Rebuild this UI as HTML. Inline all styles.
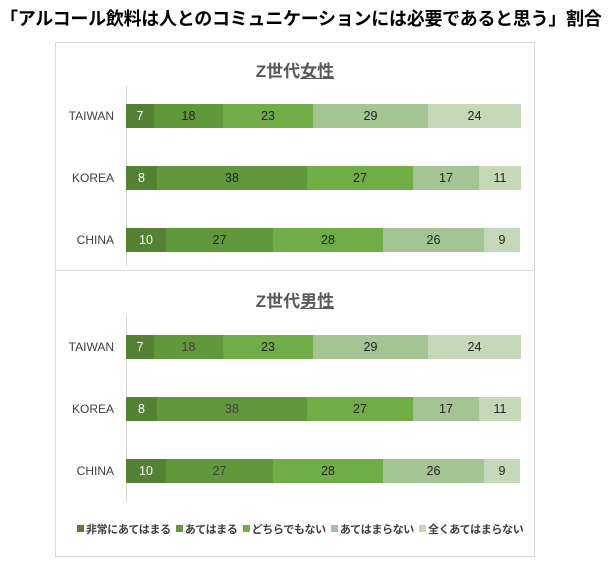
<!DOCTYPE html>
<html><head><meta charset="utf-8"><style>
body{margin:0;width:612px;height:566px;background:#fff;position:relative;font-family:"Liberation Sans","Noto Sans CJK JP",sans-serif;overflow:hidden}
.a{position:absolute}
.t{left:0;top:5px;font-size:18px;font-weight:bold;color:#000;white-space:nowrap;letter-spacing:-0.27px}
.box{left:55px;top:42px;width:480px;height:515px;border:1px solid #d9d9d9;box-sizing:border-box}
.div{left:55px;top:270px;width:480px;height:1px;background:#d9d9d9}
.ct{font-size:17px;font-weight:bold;color:#595959;width:480px;left:55px;text-align:center}
.ct u{text-decoration:underline}
.ax{left:126px;width:1px;background:#d9d9d9}
.lab{font-size:12px;color:#404040;width:64px;left:50px;text-align:right}
.bar{left:126px;height:24px;display:flex}
.bar div{height:24px;line-height:24px;text-align:center;font-size:12.5px;color:#222}
.c1{background:#548235;color:#fff!important}
.c2{background:#62983c}
.c3{background:#70ad47}
.c4{background:#a4c593}
.c5{background:#c5d9b8}
.lg{top:521px;left:77px;font-size:11px;color:#404040;white-space:nowrap;font-weight:bold;letter-spacing:-0.35px}
.lg span{display:inline-block;width:7px;height:7px;margin:0 2px 1px 0}
.lg b{font-weight:bold;margin-right:5px}
</style></head><body>
<div class="a t">「アルコール飲料は人とのコミュニケーションには必要であると思う」割合</div>
<div class="a box"></div>
<div class="a div"></div>
<div class="a ct" style="top:57px">Z世代<u>女性</u></div>
<div class="a ct" style="top:287px">Z世代<u>男性</u></div>
<div class="a ax" style="top:86px;height:180px"></div>
<div class="a ax" style="top:316px;height:186px"></div>

<div class="a lab" style="top:109px">TAIWAN</div>
<div class="a lab" style="top:171px">KOREA</div>
<div class="a lab" style="top:233px">CHINA</div>
<div class="a lab" style="top:340px">TAIWAN</div>
<div class="a lab" style="top:402px">KOREA</div>
<div class="a lab" style="top:464px">CHINA</div>

<div class="a bar" style="top:104px"><div class="c1" style="width:28px">7</div><div class="c2" style="width:69px">18</div><div class="c3" style="width:90px">23</div><div class="c4" style="width:115px">29</div><div class="c5" style="width:93px">24</div></div>
<div class="a bar" style="top:166px"><div class="c1" style="width:31px">8</div><div class="c2" style="width:150px">38</div><div class="c3" style="width:106px">27</div><div class="c4" style="width:66px">17</div><div class="c5" style="width:42px">11</div></div>
<div class="a bar" style="top:228px"><div class="c1" style="width:40px">10</div><div class="c2" style="width:107px">27</div><div class="c3" style="width:110px">28</div><div class="c4" style="width:101px">26</div><div class="c5" style="width:36px">9</div></div>

<div class="a bar" style="top:335px"><div class="c1" style="width:28px">7</div><div class="c2" style="width:69px;color:#404040">18</div><div class="c3" style="width:90px">23</div><div class="c4" style="width:115px">29</div><div class="c5" style="width:93px">24</div></div>
<div class="a bar" style="top:397px"><div class="c1" style="width:31px">8</div><div class="c2" style="width:150px;color:#404040">38</div><div class="c3" style="width:106px">27</div><div class="c4" style="width:66px">17</div><div class="c5" style="width:42px">11</div></div>
<div class="a bar" style="top:459px"><div class="c1" style="width:40px">10</div><div class="c2" style="width:107px;color:#404040">27</div><div class="c3" style="width:110px">28</div><div class="c4" style="width:101px">26</div><div class="c5" style="width:36px">9</div></div>

<div class="a lg"><span class="c1"></span><b>非常にあてはまる</b><span class="c2"></span><b>あてはまる</b><span class="c3"></span><b>どちらでもない</b><span class="c4"></span><b>あてはまらない</b><span class="c5"></span><b>全くあてはまらない</b></div>
</body></html>
